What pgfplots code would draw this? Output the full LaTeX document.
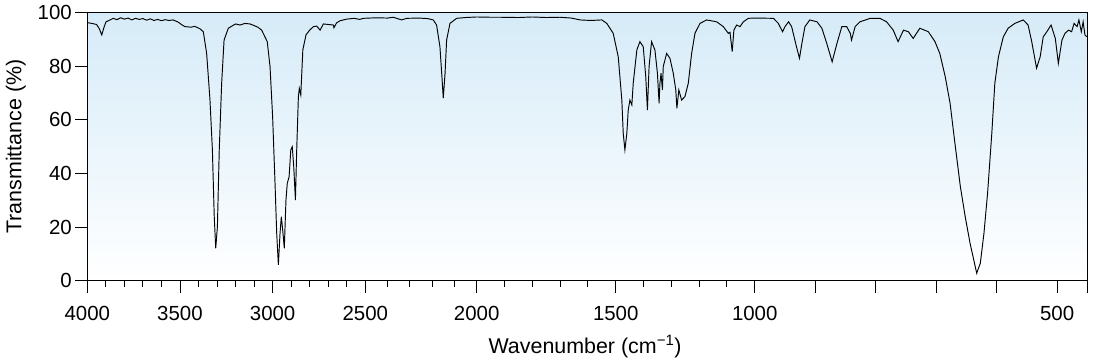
\documentclass[border=0pt]{standalone}
\usepackage{fontspec}
\setmainfont{Liberation Sans}
\usepackage{pgfplots}
\usepackage{pgfplotstable}
\pgfplotsset{compat=1.18}
\definecolor{bgtop}{RGB}{214,235,248}
\pgfplotstableread{
nu T
4000 96.3
3975 96.0
3950 95.6
3935 94.0
3922 91.7
3910 94.5
3899 96.6
3880 97.2
3860 97.9
3840 97.4
3820 98.1
3800 97.6
3780 98.0
3760 97.3
3740 97.9
3720 97.5
3700 97.8
3680 97.2
3660 97.7
3640 97.1
3620 97.5
3600 97.0
3580 97.4
3560 97.1
3537 97.3
3510 96.5
3490 95.5
3473 94.8
3440 94.6
3420 94.9
3392 94.0
3374 92.9
3356 84.8
3338 67.4
3325 48.8
3315 23.9
3307 12.1
3298 20.1
3288 48.8
3275 73.7
3262 89.8
3239 94.2
3220 95.0
3200 95.8
3176 95.4
3150 96.0
3122 95.8
3100 95.2
3080 94.6
3059 93.5
3029 89.2
3014 79.9
3000 61.2
2987 36.3
2978 17.7
2969 5.9
2960 17.7
2953 23.9
2944 17.7
2937 12.1
2928 30.1
2921 36.3
2911 38.8
2902 48.8
2894 50.0
2886 42.5
2877 30.1
2870 48.8
2861 68.7
2856 71.8
2848 69.3
2837 86.1
2820 91.7
2800 93.5
2780 94.8
2762 95.0
2744 93.5
2726 95.8
2700 95.6
2672 95.4
2669 94.4
2655 96.2
2636 97.0
2600 97.6
2560 97.9
2530 97.5
2510 97.9
2450 98.1
2400 98.0
2374 98.3
2337 97.3
2314 97.9
2260 98.0
2220 97.8
2195 97.3
2180 95.4
2165 87.3
2156 76.1
2150 68.1
2142 77.4
2135 89.8
2120 96.0
2090 97.9
2050 98.2
2000 98.4
1950 98.3
1916 98.3
1850 98.2
1800 98.4
1750 98.2
1700 98.3
1660 98.0
1628 97.3
1590 97.1
1550 97.3
1532 96.0
1509 92.3
1491 83.6
1478 67.4
1473 55.0
1467 48.8
1460 55.0
1455 63.7
1449 67.4
1442 65.6
1437 73.7
1424 86.1
1413 89.2
1401 87.3
1392 76.1
1386 63.7
1380 79.9
1371 89.2
1359 86.1
1350 77.4
1344 66.2
1341 73.7
1337 77.4
1332 71.2
1329 79.9
1317 84.8
1305 83.0
1293 77.4
1284 71.2
1280 64.3
1273 71.2
1263 67.4
1251 68.7
1239 73.7
1227 84.8
1215 92.3
1197 96.0
1173 97.3
1137 96.6
1113 94.8
1095 92.3
1089 92.7
1081 85.5
1075 93.5
1065 95.4
1053 94.8
1041 96.6
1023 97.9
1000 98.0
969 97.9
961 96.0
954 92.9
950 94.8
944 96.6
939 94.8
931 87.3
926 83.0
922 88.6
917 94.8
909 97.3
897 96.6
889 94.2
881 88.6
872 81.7
864 88.6
856 94.8
848 94.8
842 92.3
840 89.8
834 94.8
826 96.6
809 97.9
793 97.9
782 96.6
771 93.5
763 89.2
754 93.5
746 92.9
738 90.4
727 94.2
713 92.9
702 89.2
694 84.8
685 76.1
677 66.2
669 51.3
660 35.1
652 23.9
644 14.0
633 2.8
627 6.5
621 17.7
615 32.6
608 55.0
603 73.7
597 83.6
589 91.0
581 94.2
570 96.0
556 97.3
548 95.4
542 89.2
534 79.3
528 83.6
523 91.0
517 92.9
510 95.4
503 90.4
498 81.1
492 89.8
487 92.3
481 93.5
476 92.9
472 96.0
467 94.8
464 97.3
460 92.9
457 96.6
454 91.7
451 91.0
}\spectrum
\begin{document}
\begin{tikzpicture}
\begin{axis}[
  at={(0,0)}, anchor=south west,
  width=1000bp, height=268bp, scale only axis,
  x coord trafo/.code={\pgfmathparse{ifthenelse(#1>2499.99,(4000-#1)*0.1853,ifthenelse(#1>1999.99,277.95+(2500-#1)*0.2228,ifthenelse(#1>999.99,389.35+(2000-#1)*0.278,667.35+(1000-#1)*0.6047)))}},
  xmin=4000, xmax=450, ymin=0, ymax=100,
  xtick={4000,3500,3000,2500,2000,1500,1000,900,800,700,600,500,450},
  xticklabels={4000,3500,3000,2500,2000,1500,1000,{},{},{},{},500,{}},
  minor xtick={3900,3800,3700,3600,3400,3300,3200,3100,2900,2800,2700,2600,2400,2300,2200,2100,1900,1800,1700,1600,1400,1300,1200,1100},
  ytick={0,20,40,60,80,100},
  tick align=outside, tick pos=left,
  major tick length=12bp, minor tick length=6.5bp,
  every tick/.style={black, line width=0.9bp},
  axis line style={black, line width=1bp},
  /pgf/number format/assume math mode=true,
  tick label style={font=\fontsize{20.5}{24}\selectfont, text=black},
  xticklabel style={yshift=-10bp},
  axis background/.style={top color=bgtop, bottom color=white},
  xlabel={Wavenumber (cm\textsuperscript{\char"2212 1})},
  ylabel={Transmittance (\%)},
  label style={font=\fontsize{21.5}{24}\selectfont},
  xlabel style={at={(axis description cs:0.4977,-0.2698)}, anchor=base},
  ylabel style={at={(axis description cs:-0.066,0.5)}, anchor=base},
]
\addplot[black, line width=0.95bp, mark=none] table[x=nu, y=T] {\spectrum};
\end{axis}
\pgfresetboundingbox
\useasboundingbox (-87.3bp,-81.3bp) rectangle (1007.7bp,280.7bp);
\end{tikzpicture}
\end{document}
